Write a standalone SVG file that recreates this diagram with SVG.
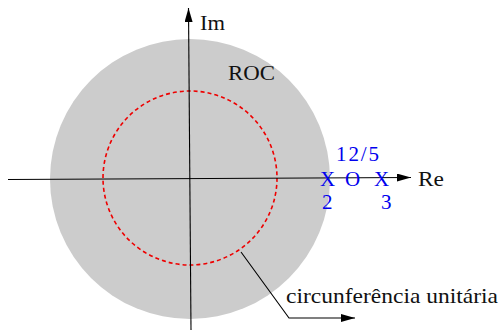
<svg xmlns="http://www.w3.org/2000/svg" width="502" height="332" viewBox="0 0 502 332">
<defs>
<marker id="ah" viewBox="0 0 10 10" refX="10" refY="5" markerWidth="14" markerHeight="8" markerUnits="userSpaceOnUse" orient="auto" preserveAspectRatio="none"><path d="M0,0 L10,5 L0,10 Z" fill="#000"/></marker>
<style>
text{font-family:"Liberation Serif","DejaVu Serif",serif;font-size:21px;fill:#111}
.b{fill:#0000ee}
.ax{stroke:#000;stroke-width:1.1;fill:none}
</style>
</defs>
<g id="roc"><circle cx="190" cy="179" r="140" fill="#cccccc"/></g>
<g id="unit"><circle cx="190" cy="178" r="87" fill="none" stroke="#ee0000" stroke-width="1.6" stroke-dasharray="4,3"/></g>
<g id="connectors">
<line class="ax" x1="8" y1="179.5" x2="411" y2="177.5" marker-end="url(#ah)"/>
<line class="ax" x1="191" y1="330" x2="188.5" y2="8" marker-end="url(#ah)"/>
<polyline class="ax" points="241,252 289,318 355,318" marker-end="url(#ah)"/>
</g>
<g id="labels">
<text x="200" y="30" textLength="25" lengthAdjust="spacingAndGlyphs">Im</text>
<text x="418" y="186" textLength="26" lengthAdjust="spacingAndGlyphs">Re</text>
<text x="228" y="80" textLength="47" lengthAdjust="spacingAndGlyphs">ROC</text>
<text x="286" y="303" textLength="212" lengthAdjust="spacingAndGlyphs">circunferência unitária</text>
</g>
<g id="poles">
<text class="b" x="336" y="161" textLength="43" lengthAdjust="spacing">12/5</text>
<text class="b" x="320" y="186">X</text>
<text class="b" x="345" y="186">O</text>
<text class="b" x="374" y="186">X</text>
<text class="b" x="322" y="209">2</text>
<text class="b" x="381" y="209">3</text>
</g>
</svg>
